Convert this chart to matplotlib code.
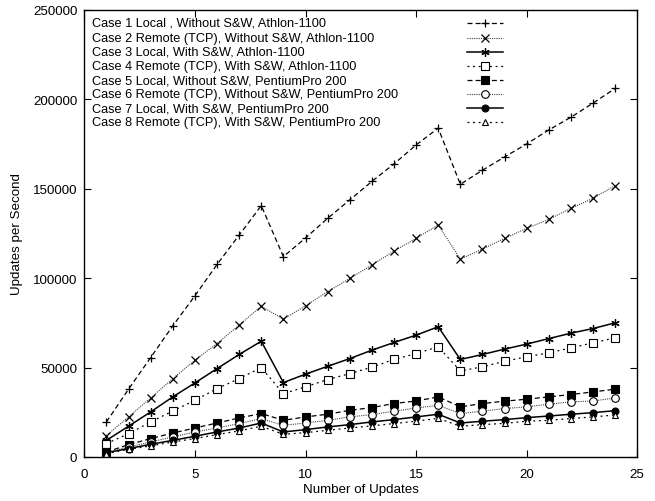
import matplotlib
matplotlib.use("Agg")
import matplotlib.pyplot as plt
from matplotlib.lines import Line2D

plt.rcParams['font.family'] = ['Liberation Sans', 'DejaVu Sans']

x = list(range(1, 25))
labels = [
    "Case 1 Local , Without S&W, Athlon-1100",
    "Case 2 Remote (TCP), Without S&W, Athlon-1100",
    "Case 3 Local, With S&W, Athlon-1100",
    "Case 4 Remote (TCP), With S&W, Athlon-1100",
    "Case 5 Local, Without S&W, PentiumPro 200",
    "Case 6 Remote (TCP), Without S&W, PentiumPro 200",
    "Case 7 Local, With S&W, PentiumPro 200",
    "Case 8 Remote (TCP), With S&W, PentiumPro 200",
]
case1 = [19600, 37900, 55600, 73300, 90100, 107600, 124000, 140500, 112000, 122400, 133400, 143700,
         154000, 163800, 174400, 183800, 152400, 160300, 167700, 175000, 182800, 189900, 197800, 206000]
case2 = [12000, 22400, 33000, 43800, 54100, 63400, 73700, 84300, 77000, 84500, 92400, 99800,
         107300, 115100, 122200, 129700, 110600, 116200, 122200, 127800, 132800, 139000, 144600, 151700]
case3 = [9300, 17200, 25200, 33600, 41400, 49400, 57300, 64700, 41600, 46300, 50700, 55000,
         59700, 64000, 68100, 72800, 54500, 57300, 60300, 63100, 66200, 69200, 71800, 75000]
case4 = [7500, 13000, 19600, 25700, 31700, 38200, 43800, 50000, 35400, 39200, 43300, 46600,
         50200, 54500, 57800, 61600, 48100, 50400, 53500, 56000, 58200, 61000, 63800, 66600]
case5 = [2800, 6900, 10300, 13400, 16200, 19000, 21800, 24300, 20500, 22400, 23900, 26100,
         27600, 29900, 31300, 33600, 28000, 29900, 31200, 32300, 33600, 34900, 36400, 37900]
case6 = [2400, 5600, 8400, 11200, 14000, 16200, 18700, 21400, 17700, 19000, 20500, 22400,
         23700, 25600, 27400, 28900, 24300, 25600, 27100, 28000, 29500, 30800, 31300, 33000]
case7 = [2400, 4700, 7100, 9300, 11600, 14000, 16200, 19000, 14000, 15300, 16800, 18100,
         19600, 20900, 22400, 23900, 19000, 20000, 20900, 22000, 22900, 23900, 24800, 25900]
case8 = [1900, 4300, 6200, 8400, 10300, 12500, 14600, 17200, 12700, 13600, 14900, 16200,
         17400, 18700, 20000, 21600, 17200, 18100, 18800, 20000, 20500, 21500, 22400, 23500]
series = [case1, case2, case3, case4, case5, case6, case7, case8]

styles = [
    dict(color='black', lw=0.9, dashes=(4, 2.5), marker='+', ms=6, mew=0.9),
    dict(color='#444444', lw=0.8, dashes=(1, 1), marker='x', ms=5.5, mew=0.9, mec='black'),
    dict(color='black', lw=1.1, ls='-', marker=(6, 2, 0), ms=6, mew=0.9),
    dict(color='black', lw=0.9, dashes=(1.5, 3), marker='s', ms=5.5, mew=0.8, mfc='white'),
    dict(color='black', lw=0.9, dashes=(4, 2.5), marker='s', ms=5.5, mew=0.8),
    dict(color='#444444', lw=0.8, dashes=(1, 1), marker='o', ms=5.5, mew=0.8, mfc='white', mec='black'),
    dict(color='black', lw=1.1, ls='-', marker='o', ms=5, mew=0.8),
    dict(color='black', lw=0.9, dashes=(1.5, 3), marker='^', ms=5, mew=0.8, mfc='white'),
]

W, H = 655, 502
fig = plt.figure(figsize=(W / 100, H / 100), dpi=100)
ax = fig.add_axes([84.3 / W, 1 - 458 / H, 553 / W, 447.3 / H])

for ys, lab, st in zip(series, labels, styles):
    ax.plot(x, ys, label=lab, **st)

ax.set_xlim(0, 25)
ax.set_ylim(0, 250000)
ax.set_xticks([0, 5, 10, 15, 20, 25])
ax.set_yticks([0, 50000, 100000, 150000, 200000, 250000])
ax.tick_params(direction='in', top=True, right=True, length=5, width=0.8, labelsize=9.6)
ax.tick_params(axis='x', pad=8)
ax.tick_params(axis='y', pad=5)
for s in ax.spines.values():
    s.set_linewidth(1.0)
ax.set_xlabel("Number of Updates", fontsize=9.6, labelpad=2)
ax.set_ylabel("Updates per Second", fontsize=9.6, labelpad=7)

# gnuplot-style key: text left, sample on the right
row_y = [24, 38.7, 52.7, 67.2, 81, 95.3, 109.3, 123.3]
for yy, lab, st in zip(row_y, labels, styles):
    fy = 1 - yy / H
    fig.text(92 / W, fy, lab, fontsize=9.2, ha='left', va='center')
    ln = Line2D([467 / W, 485 / W, 503 / W], [fy, fy, fy], transform=fig.transFigure,
                markevery=[1], **st)
    fig.add_artist(ln)

fig.savefig("out.png", dpi=100)
